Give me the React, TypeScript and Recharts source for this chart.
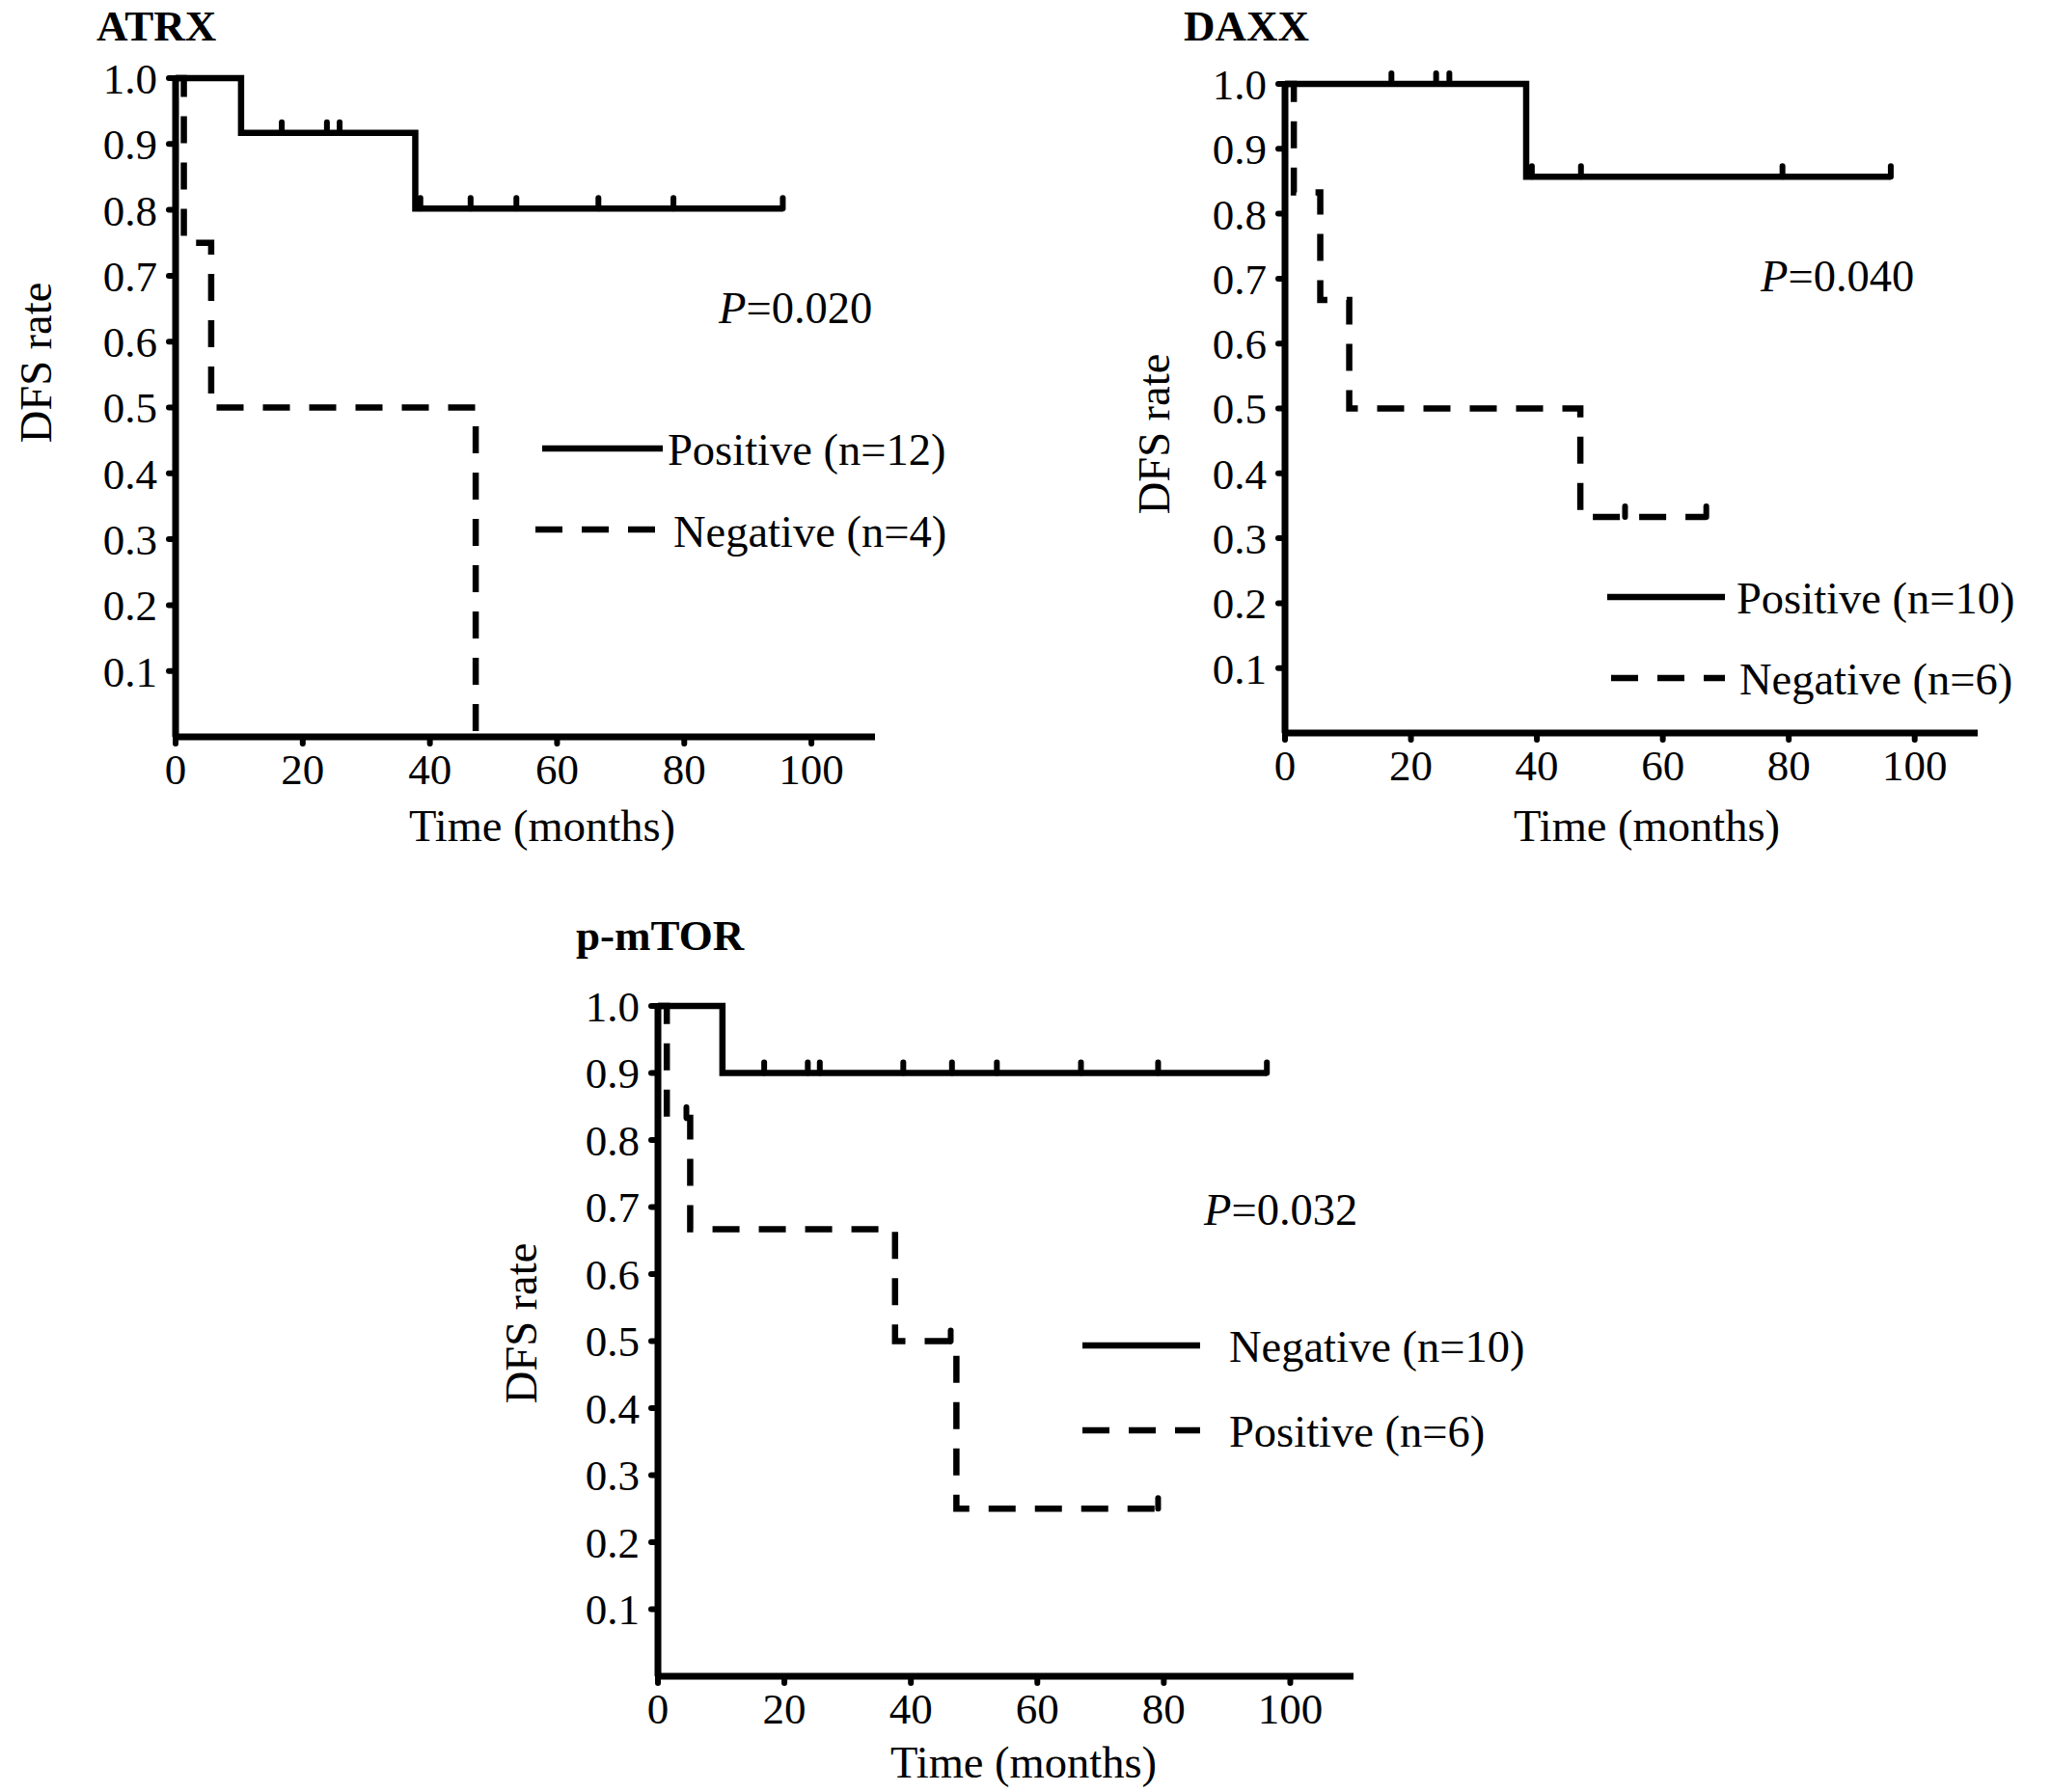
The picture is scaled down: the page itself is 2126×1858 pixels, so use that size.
import { ComposedChart, Line, Scatter, XAxis, YAxis, Customized } from 'recharts'

// Kaplan-Meier steps: time (months) and DFS rate
const atrxPosTimes = [0, 10.3, 37.7, 95.5]
const atrxPosRates = [1, 0.917, 0.802, 0.802]
const atrxNegTimes = [0, 1.3, 5.6, 47.2]
const atrxNegRates = [1, 0.75, 0.5, 0]
const atrxPosCensorTimes = [16.7, 23.8, 25.8, 38.5, 46.4, 53.6, 66.5, 78.3, 95.5]
const atrxPosCensorRates = [0.917, 0.917, 0.917, 0.802, 0.802, 0.802, 0.802, 0.802, 0.802]

const daxxPosTimes = [0, 38.3, 96.2]
const daxxPosRates = [1, 0.857, 0.857]
const daxxNegTimes = [0, 1.4, 5.6, 10.2, 46.9, 66.9]
const daxxNegRates = [1, 0.833, 0.667, 0.5, 0.333, 0.333]
const daxxPosCensorTimes = [16.9, 24.0, 26.1, 39.2, 47.0, 79.0, 96.2]
const daxxPosCensorRates = [1, 1, 1, 0.857, 0.857, 0.857, 0.857]
const daxxNegCensorTimes = [54.0, 66.9]
const daxxNegCensorRates = [0.333, 0.333]

const mtorNegTimes = [0, 10.2, 96.3]
const mtorNegRates = [1, 0.9, 0.9]
const mtorPosTimes = [0, 1.4, 5.1, 37.5, 47.2, 79.7]
const mtorPosRates = [1, 0.833, 0.667, 0.5, 0.25, 0.25]
const mtorNegCensorTimes = [16.8, 23.7, 25.6, 38.8, 46.5, 53.6, 66.9, 79.1, 96.3]
const mtorNegCensorRates = [0.9, 0.9, 0.9, 0.9, 0.9, 0.9, 0.9, 0.9, 0.9]
const mtorPosCensorTimes = [4.5, 46.3, 79.1]
const mtorPosCensorRates = [0.833, 0.5, 0.25]

const xTicks = [0, 20, 40, 60, 80, 100]
const yTicks = [0.1, 0.2, 0.3, 0.4, 0.5, 0.6, 0.7, 0.8, 0.9, 1.0]

interface Pt { t: number; s: number }

const toPoints = (times: number[], rates: number[]): Pt[] => times.map((t, i) => ({ t, s: rates[i] }))

const FONT = '"Liberation Serif", "Times New Roman", serif'
const DASH = '28 20'

interface Panel {
  title: string
  p: string
  box: { left: number; top: number; width: number; height: number }
  plot: { left: number; top: number; right: number; bottom: number }
  solid: Pt[]
  dashed: Pt[]
  censors: Pt[]
  legend: { solid: string; dashed: string }
  pos: {
    title: [number, number]
    yLabel: [number, number]
    xLabel: [number, number]
    p: [number, number]
    solidLine: [number, number, number]
    solidText: [number, number]
    dashedLine: [number, number, number]
    dashedText: [number, number]
  }
}

const panels: Panel[] = [
  {
    title: 'ATRX',
    p: '0.020',
    box: { left: 0, top: 0, width: 1080, height: 920 },
    plot: { left: 182, top: 81, right: 907, bottom: 764 },
    solid: toPoints(atrxPosTimes, atrxPosRates),
    dashed: toPoints(atrxNegTimes, atrxNegRates),
    censors: toPoints(atrxPosCensorTimes, atrxPosCensorRates),
    legend: { solid: 'Positive (n=12)', dashed: 'Negative (n=4)' },
    pos: {
      title: [100, 42],
      yLabel: [53, 376],
      xLabel: [562, 872],
      p: [745, 335],
      solidLine: [562, 687, 465],
      solidText: [692, 482],
      dashedLine: [555, 682, 549],
      dashedText: [698, 567],
    },
  },
  {
    title: 'DAXX',
    p: '0.040',
    box: { left: 1100, top: 0, width: 1026, height: 920 },
    plot: { left: 1332, top: 87, right: 2050, bottom: 760 },
    solid: toPoints(daxxPosTimes, daxxPosRates),
    dashed: toPoints(daxxNegTimes, daxxNegRates),
    censors: [...toPoints(daxxPosCensorTimes, daxxPosCensorRates), ...toPoints(daxxNegCensorTimes, daxxNegCensorRates)],
    legend: { solid: 'Positive (n=10)', dashed: 'Negative (n=6)' },
    pos: {
      title: [1227, 42],
      yLabel: [1212, 450],
      xLabel: [1707, 872],
      p: [1825, 302],
      solidLine: [1666, 1788, 619],
      solidText: [1800, 636],
      dashedLine: [1670, 1788, 703],
      dashedText: [1803, 720],
    },
  },
  {
    title: 'p-mTOR',
    p: '0.032',
    box: { left: 480, top: 930, width: 1100, height: 928 },
    plot: { left: 682, top: 1043, right: 1403, bottom: 1738 },
    solid: toPoints(mtorNegTimes, mtorNegRates),
    dashed: toPoints(mtorPosTimes, mtorPosRates),
    censors: [...toPoints(mtorNegCensorTimes, mtorNegCensorRates), ...toPoints(mtorPosCensorTimes, mtorPosCensorRates)],
    legend: { solid: 'Negative (n=10)', dashed: 'Positive (n=6)' },
    pos: {
      title: [597, 985],
      yLabel: [556, 1372],
      xLabel: [1061, 1843],
      p: [1248, 1270],
      solidLine: [1122, 1244, 1395],
      solidText: [1274, 1412],
      dashedLine: [1122, 1244, 1483],
      dashedText: [1274, 1500],
    },
  },
]

function CensorTick(props: any) {
  const { cx, cy } = props
  if (cx == null || cy == null) return null
  return <line x1={cx} y1={cy} x2={cx} y2={cy - 11} stroke="#000" strokeWidth={6} strokeLinecap="round" />
}

function Annotations({ panel }: { panel: Panel }) {
  const ox = panel.box.left
  const oy = panel.box.top
  const P = panel.pos
  const txt = { fontFamily: FONT, fontSize: 46.5, fill: '#000' }
  return (
    <g>
      <text x={P.title[0] - ox} y={P.title[1] - oy} {...txt} fontSize={45} fontWeight="bold">{panel.title}</text>
      <text
        x={P.yLabel[0] - ox}
        y={P.yLabel[1] - oy}
        textAnchor="middle"
        transform={`rotate(-90, ${P.yLabel[0] - ox}, ${P.yLabel[1] - oy})`}
        {...txt}
      >
        DFS rate
      </text>
      <text x={P.xLabel[0] - ox} y={P.xLabel[1] - oy} textAnchor="middle" {...txt}>Time (months)</text>
      <text x={P.p[0] - ox} y={P.p[1] - oy} {...txt}>
        <tspan fontStyle="italic">P</tspan>={panel.p}
      </text>
      <line x1={P.solidLine[0] - ox} x2={P.solidLine[1] - ox} y1={P.solidLine[2] - oy} y2={P.solidLine[2] - oy} stroke="#000" strokeWidth={6.5} />
      <text x={P.solidText[0] - ox} y={P.solidText[1] - oy} {...txt}>{panel.legend.solid}</text>
      <line x1={P.dashedLine[0] - ox} x2={P.dashedLine[1] - ox} y1={P.dashedLine[2] - oy} y2={P.dashedLine[2] - oy} stroke="#000" strokeWidth={6.5} strokeDasharray={DASH} />
      <text x={P.dashedText[0] - ox} y={P.dashedText[1] - oy} {...txt}>{panel.legend.dashed}</text>
    </g>
  )
}

function KMPanel({ panel }: { panel: Panel }) {
  const { box, plot } = panel
  const xAxisHeight = 100
  const margin = {
    top: plot.top - box.top,
    right: box.left + box.width - plot.right,
    bottom: box.top + box.height - plot.bottom - xAxisHeight,
    left: 0,
  }
  const tick = { fontFamily: FONT, fontSize: 45, fill: '#000' }
  const axisLine = { stroke: '#000', strokeWidth: 7 }
  const tickLine = { stroke: '#000', strokeWidth: 6, strokeLinecap: 'round' as const }
  return (
    <div style={{ position: 'absolute', left: box.left, top: box.top }}>
      <ComposedChart width={box.width} height={box.height} margin={margin}>
        <XAxis
          type="number"
          dataKey="t"
          domain={[0, 110]}
          ticks={xTicks}
          height={xAxisHeight}
          tick={tick}
          tickSize={7}
          tickMargin={10}
          axisLine={axisLine}
          tickLine={tickLine}
          allowDataOverflow
        />
        <YAxis
          type="number"
          dataKey="s"
          domain={[0, 1]}
          ticks={yTicks}
          width={plot.left - box.left}
          tick={tick}
          tickSize={7}
          tickMargin={12}
          tickFormatter={(v: number) => v.toFixed(1)}
          axisLine={axisLine}
          tickLine={tickLine}
        />
        <Line data={panel.solid} dataKey="s" type="stepAfter" stroke="#000" strokeWidth={6.5} dot={false} isAnimationActive={false} />
        <Line data={panel.dashed} dataKey="s" type="stepAfter" stroke="#000" strokeWidth={6.5} strokeDasharray={DASH} dot={false} isAnimationActive={false} />
        <Scatter data={panel.censors} dataKey="s" shape={CensorTick} isAnimationActive={false} />
        <Customized component={() => <Annotations panel={panel} />} />
      </ComposedChart>
    </div>
  )
}

export default function App() {
  return (
    <div style={{ position: 'relative', width: 2126, height: 1858, background: '#fff' }}>
      <style>{'body { margin: 0; }'}</style>
      {panels.map(p => (
        <KMPanel key={p.title} panel={p} />
      ))}
    </div>
  )
}
